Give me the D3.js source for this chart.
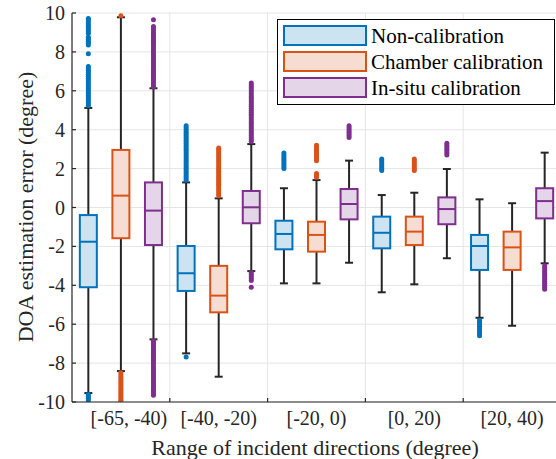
<!DOCTYPE html>
<html><head><meta charset="utf-8">
<script src="https://cdn.jsdelivr.net/npm/d3@7"></script>
<style>body{margin:0;background:#fff}</style>
</head><body><svg id="c" width="556" height="459"></svg>
<script>
const categories = ["[-65, -40)","[-40, -20)","[-20, 0)","[0, 20)","[20, 40)"];
const seriesNames = ["Non-calibration","Chamber calibration","In-situ calibration"];
const yTicks = [-10,-8,-6,-4,-2,0,2,4,6,8,10];
// [lower whisker, q1, median, q3, upper whisker] per category
const nonCal = [[-9.54,-4.1,-1.76,-0.39,5.12],[-7.5,-4.29,-3.38,-1.98,1.29],[-3.9,-2.15,-1.36,-0.68,0.99],[-4.36,-2.1,-1.3,-0.47,0.64],[-5.67,-3.21,-1.98,-1.41,0.42]];
const chamberCal = [[-8.41,-1.58,0.61,2.96,9.78],[-8.7,-5.39,-4.53,-3.0,0.47],[-3.9,-2.27,-1.41,-0.73,1.41],[-3.95,-1.93,-1.24,-0.47,0.76],[-6.08,-3.21,-2.05,-1.24,0.22]];
const inSituCal = [[-6.78,-1.93,-0.16,1.29,6.13],[-3.27,-0.81,0.01,0.85,3.26],[-2.84,-0.61,0.18,0.95,2.41],[-2.61,-0.86,-0.08,0.52,1.98],[-2.87,-0.56,0.33,0.99,2.82]];
// outliers per category
const nonCalOut = [
 [5.25,5.35,5.45,5.55,5.65,5.75,5.85,5.95,6.05,6.15,6.25,6.35,6.45,6.55,6.65,6.75,6.85,6.95,7.05,7.15,7.25,7.9,8.35,8.45,8.55,8.65,8.75,8.95,9.05,9.15,9.25,9.35,9.45,9.55,9.65,9.72,-9.62,-9.72,-9.82,-9.92],
 [1.4,1.5,1.6,1.7,1.8,1.9,2.0,2.1,2.2,2.3,2.4,2.5,2.6,2.7,2.8,2.9,3.0,3.1,3.2,3.3,3.4,3.5,3.6,3.7,3.8,3.9,4.0,4.1,4.2,-7.68],
 [2.0,2.1,2.2,2.3,2.4,2.5,2.6,2.7,2.8],
 [1.9,2.0,2.1,2.2,2.3,2.4,2.5],
 [-5.8,-5.9,-6.0,-6.1,-6.2,-6.3,-6.4,-6.5,-6.6]
];
const chamberCalOut = [
 [9.86,-8.5,-8.6,-8.7,-8.8,-8.9,-9.0,-9.1,-9.2,-9.3,-9.4,-9.5,-9.6,-9.7,-9.8,-9.9,-9.95],
 [0.6,0.7,0.8,0.9,1.0,1.1,1.2,1.3,1.4,1.5,1.6,1.7,1.8,1.9,2.0,2.1,2.2,2.3,2.4,2.5,2.6,2.7,2.8,2.9,3.0,3.06],
 [1.55,1.65,1.75,2.4,2.5,2.6,2.7,2.8,2.9,3.0,3.1,3.2],
 [1.9,2.0,2.1,2.2,2.3,2.4,2.5],
 []
];
const inSituCalOut = [
 [6.2,6.3,6.4,6.5,6.6,6.7,6.8,6.9,7.0,7.1,7.2,7.3,7.4,7.5,7.6,7.7,7.8,7.9,8.0,8.1,8.2,8.3,8.4,8.5,8.6,8.7,8.8,8.9,9.0,9.1,9.2,9.3,9.65,
  -6.85,-6.95,-7.05,-7.15,-7.25,-7.35,-7.45,-7.55,-7.65,-7.75,-7.85,-7.95,-8.05,-8.15,-8.25,-8.35,-8.45,-8.55,-8.65,-8.75,-8.85,-8.95,-9.05,-9.15,-9.25,-9.35,-9.45,-9.55,-9.65],
 [3.4,3.5,3.6,3.7,3.8,3.9,4.0,4.1,4.2,4.3,4.4,4.5,4.6,4.7,4.8,4.9,5.0,5.1,5.2,5.3,5.4,5.5,5.6,5.7,5.8,5.9,6.0,6.1,6.2,6.3,6.4,-3.35,-3.45,-3.55,-3.65,-3.75,-4.1],
 [3.6,3.7,3.8,3.9,4.0,4.1,4.2],
 [2.7,2.8,2.9,3.0,3.1,3.2,3.3],
 [-3.0,-3.1,-3.2,-3.3,-3.4,-3.5,-3.6,-3.7,-3.8,-3.9,-4.0,-4.1,-4.2]
];

const colors = ["#0072BD","#D95319","#7E2F8E"];
const fills = ["#cce3f2","#f7ddd1","#e5d5e8"];
const series = [
  {stats: nonCal, out: nonCalOut},
  {stats: chamberCal, out: chamberCalOut},
  {stats: inSituCal, out: inSituCalOut}
];
const offsets = [-0.333, 0, 0.333];

const svg = d3.select("#c");
const L = 72, T = 13, B = 402;
const x = d3.scaleLinear().domain([0.5, 5.5]).range([L, L + 5*97.8]);
const y = d3.scaleLinear().domain([-10, 10]).range([B, T]);
const font = "'Liberation Serif','Times New Roman',serif";
const axisCol = "#262626";

svg.append("defs").append("clipPath").attr("id","clip")
  .append("rect").attr("x", L).attr("y", T).attr("width", 556 - L).attr("height", B - T);

// grid
const grid = svg.append("g");
grid.selectAll("line.h").data(yTicks).join("line")
  .attr("x1", L).attr("x2", 556).attr("y1", d => y(d)).attr("y2", d => y(d))
  .attr("stroke", "#e5e5e5").attr("stroke-width", 1);
const vgrid = [1.5, 2.5, 3.5, 4.5];
grid.selectAll("line.v").data(vgrid).join("line")
  .attr("x1", d => x(d)).attr("x2", d => x(d)).attr("y1", T).attr("y2", B)
  .attr("stroke", "#e5e5e5").attr("stroke-width", 1);

const plot = svg.append("g").attr("clip-path", "url(#clip)");
const bw = 17, cw = 8;
series.forEach((s, si) => {
  const g = plot.append("g");
  s.stats.forEach((st, ci) => {
    const cx = x(ci + 1 + offsets[si]);
    const [lw, q1, med, q3, uw] = st;
    // whiskers
    g.append("line").attr("x1", cx).attr("x2", cx).attr("y1", y(q3)).attr("y2", y(uw))
      .attr("stroke", axisCol).attr("stroke-width", 2);
    g.append("line").attr("x1", cx).attr("x2", cx).attr("y1", y(q1)).attr("y2", y(lw))
      .attr("stroke", axisCol).attr("stroke-width", 2);
    [lw, uw].forEach(v => g.append("line").attr("x1", cx - cw/2).attr("x2", cx + cw/2)
      .attr("y1", y(v)).attr("y2", y(v)).attr("stroke", axisCol).attr("stroke-width", 2));
    // box
    g.append("rect").attr("x", cx - bw/2).attr("y", y(q3)).attr("width", bw).attr("height", y(q1) - y(q3))
      .attr("fill", fills[si]).attr("stroke", colors[si]).attr("stroke-width", 2);
    g.append("line").attr("x1", cx - bw/2).attr("x2", cx + bw/2).attr("y1", y(med)).attr("y2", y(med))
      .attr("stroke", colors[si]).attr("stroke-width", 2);
    // outliers
    g.selectAll(null).data(s.out[ci]).join("circle")
      .attr("cx", cx).attr("cy", d => y(d)).attr("r", 2.5).attr("fill", colors[si]);
  });
});

// axes
const ax = svg.append("g");
ax.append("line").attr("x1", L).attr("x2", L).attr("y1", T).attr("y2", B).attr("stroke", axisCol).attr("stroke-width", 1.2);
ax.append("line").attr("x1", L).attr("x2", 556).attr("y1", B).attr("y2", B).attr("stroke", axisCol).attr("stroke-width", 1.2);
ax.selectAll("line.yt").data(yTicks).join("line")
  .attr("x1", L).attr("x2", L + 4).attr("y1", d => y(d)).attr("y2", d => y(d)).attr("stroke", axisCol).attr("stroke-width", 1.2);
ax.selectAll("line.xt").data(vgrid).join("line")
  .attr("x1", d => x(d)).attr("x2", d => x(d)).attr("y1", B).attr("y2", B - 4).attr("stroke", axisCol).attr("stroke-width", 1.2);
ax.selectAll("text.yl").data(yTicks).join("text")
  .attr("x", L - 7).attr("y", d => y(d)).attr("dy", "0.35em").attr("text-anchor", "end")
  .attr("font-family", font).attr("font-size", 20).attr("fill", axisCol).text(d => d);
ax.selectAll("text.xl").data(categories).join("text")
  .attr("x", (d, i) => x(i + 1) + (i === 0 ? 8 : 0)).attr("y", 425).attr("text-anchor", "middle")
  .attr("font-family", font).attr("font-size", 20).attr("fill", axisCol).text(d => d);
svg.append("text").attr("x", 315).attr("y", 455).attr("text-anchor", "middle")
  .attr("font-family", font).attr("font-size", 22).attr("fill", axisCol).text("Range of incident directions (degree)");
svg.append("text").attr("transform", "translate(33,207) rotate(-90)").attr("text-anchor", "middle")
  .attr("font-family", font).attr("font-size", 22).attr("fill", axisCol).text("DOA estimation error (degree)");

// legend
const lg = svg.append("g");
lg.append("rect").attr("x", 277.5).attr("y", 19.5).attr("width", 277).attr("height", 85)
  .attr("fill", "#fff").attr("stroke", "#000").attr("stroke-width", 1);
seriesNames.forEach((n, i) => {
  lg.append("rect").attr("x", 284).attr("y", 26 + i*26).attr("width", 82).attr("height", 19)
    .attr("fill", fills[i]).attr("stroke", colors[i]).attr("stroke-width", 2);
  lg.append("text").attr("x", 371).attr("y", 43 + i*26).attr("font-family", font).attr("font-size", 21)
    .attr("fill", "#000").text(n);
});
</script></body></html>
